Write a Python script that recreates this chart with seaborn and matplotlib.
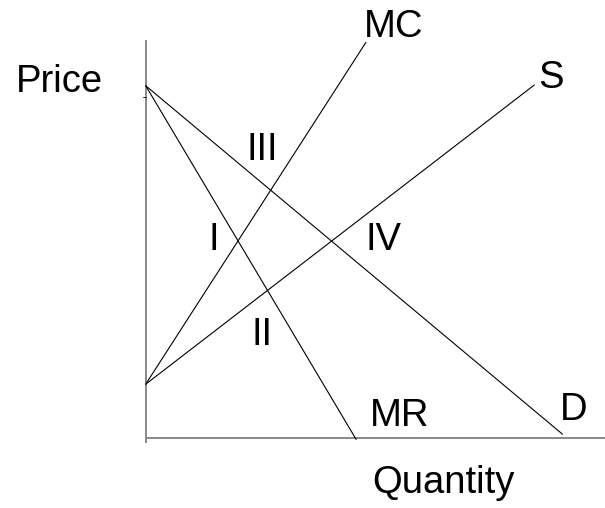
import pandas as pd
import seaborn as sns
import matplotlib
matplotlib.use("Agg")
import matplotlib.pyplot as plt

# curve endpoints (quantity, price)
d_q = [0.0, 9.9]
d_p = [10.0, 0.1]
mr_q = [0.0, 5.0]
mr_p = [10.0, -0.05]
mc_q = [0.0, 5.23]
mc_p = [1.52, 11.23]
s_q = [0.0, 9.23]
s_p = [1.52, 10.02]

curve_names = ["D", "MR", "MC", "S"]
region_names = ["I", "II", "III", "IV"]

df = pd.concat([
    pd.DataFrame({"curve": "D", "q": d_q, "p": d_p}),
    pd.DataFrame({"curve": "MR", "q": mr_q, "p": mr_p}),
    pd.DataFrame({"curve": "MC", "q": mc_q, "p": mc_p}),
    pd.DataFrame({"curve": "S", "q": s_q, "p": s_p}),
], ignore_index=True)

sns.set_style("white")
plt.rcParams["font.family"] = ["Liberation Sans", "DejaVu Sans"]
plt.rcParams["text.color"] = "black"

fig = plt.figure(figsize=(6.05, 5.08), dpi=100)
ax = fig.add_axes([0, 0, 1, 1])
ax.set_xlim(-3.461, 10.910)
ax.set_ylim(-1.997, 12.435)
ax.axis("off")

# axes drawn by hand, grey like the original slide
ax.plot([0, 0], [-0.15, 11.3], color="#808080", lw=1.3, solid_capstyle="butt")
ax.plot([0.02, 10.91], [0.0, 0.0], color="#808080", lw=1.3, solid_capstyle="butt")
# little tick near the demand intercept
ax.plot([-0.07, 0], [9.67, 9.67], color="black", lw=0.6)

sns.lineplot(data=df, x="q", y="p", units="curve", estimator=None,
             color="black", lw=0.8, sort=False, ax=ax, legend=False)

# label placement
label_pos = {
    "MC": (5.88, 11.39), "S": (9.62, 9.93), "MR": (6.04, 0.33), "D": (10.16, 0.50),
    "III": (2.77, 7.89), "I": (1.61, 5.33), "IV": (5.66, 5.33), "II": (2.76, 2.63),
}
fs = 27.5
for name in curve_names + region_names:
    x, y = label_pos[name]
    ax.text(x, y, name, ha="center", va="baseline", fontsize=fs, color="black")

ax.text(-2.06, 9.83, "Price", ha="center", va="baseline", fontsize=fs, color="black")
ax.text(7.07, -1.56, "Quantity", ha="center", va="baseline", fontsize=fs, color="black")

fig.savefig("out.png", dpi=100)
